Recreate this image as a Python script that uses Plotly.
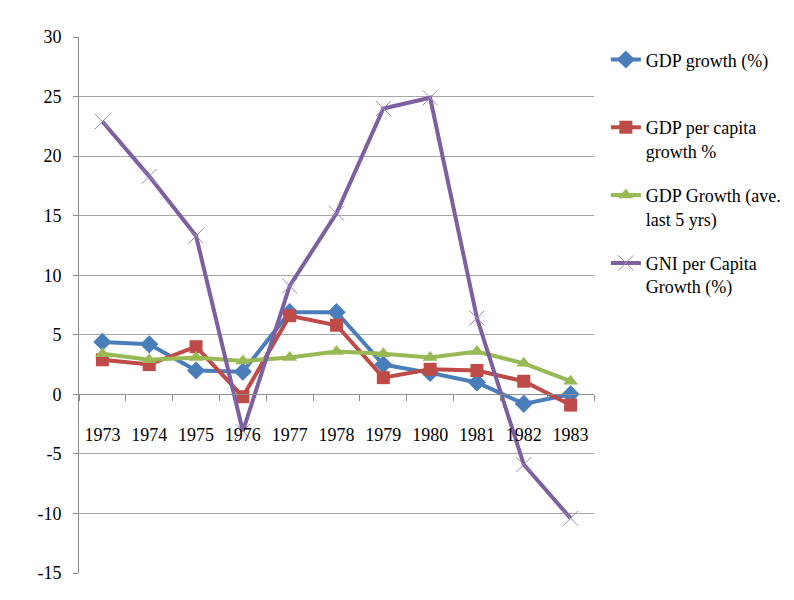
import plotly.graph_objects as go

years = ['1973', '1974', '1975', '1976', '1977', '1978', '1979', '1980', '1981', '1982', '1983']
gdp_growth = [4.4, 4.2, 2.0, 1.9, 6.9, 6.9, 2.5, 1.8, 1.0, -0.8, 0.0]
gdp_per_capita = [2.9, 2.5, 4.0, -0.2, 6.6, 5.8, 1.4, 2.1, 2.0, 1.1, -0.9]
gdp_avg5 = [3.4, 2.9, 3.1, 2.8, 3.1, 3.6, 3.4, 3.1, 3.6, 2.6, 1.1]
gni_per_capita = [22.9, 18.3, 13.3, -3.1, 9.1, 15.2, 24.0, 24.9, 6.4, -5.9, -10.4]

y_tick_values = [-15, -10, -5, 0, 5, 10, 15, 20, 25, 30]
y_tick_labels = ['-15', '-10', '-5', '0', '5', '10', '15', '20', '25', '30']

names = ['GDP growth (%)<br>\u00a0', 'GDP per capita<br>growth %',
         'GDP Growth (ave.<br>last 5 yrs)', 'GNI per Capita<br>Growth (%)']

FONT = 'Liberation Serif'
fig = go.Figure()
fig.add_trace(go.Scatter(x=years, y=gdp_growth, name=names[0], mode='lines+markers', legendgroup='a',
                         line=dict(color='#4A7EBB', width=4),
                         marker=dict(symbol='diamond', size=14, color='#4A7EBB')))
fig.add_trace(go.Scatter(x=years, y=gdp_per_capita, name=names[1], mode='lines+markers', legendgroup='b',
                         line=dict(color='#BE4B48', width=4),
                         marker=dict(symbol='square', size=13, color='#BE4B48')))
fig.add_trace(go.Scatter(x=years, y=gdp_avg5, name=names[2], mode='lines+markers', legendgroup='c',
                         line=dict(color='#98B954', width=4),
                         marker=dict(symbol='triangle-up', size=13, color='#98B954')))
fig.add_trace(go.Scatter(x=years, y=gni_per_capita, name=names[3], mode='lines+markers', legendgroup='d',
                         line=dict(color='#7D60A0', width=4),
                         marker=dict(symbol='x-thin', size=15, color='#9A86BE',
                                     line=dict(color='#9A86BE', width=1))))

fig.update_layout(
    width=778, height=584,
    margin=dict(l=71, r=192, t=29, b=19, autoexpand=False),
    paper_bgcolor='white', plot_bgcolor='white',
    font=dict(family=FONT, size=18, color='black'),
    showlegend=True,
    legend=dict(x=1.023, xanchor='left', y=0.992, yanchor='top', valign='top',
                traceorder='grouped', tracegroupgap=18,
                font=dict(family=FONT, size=18, color='black'),
                bgcolor='rgba(0,0,0,0)'),
    xaxis=dict(type='category', range=[-0.5, 10.5], anchor='free', position=1/3, automargin=False,
               showline=True, linecolor='#8C8C8C', linewidth=1,
               ticks='outside', ticklen=6, tickcolor='#8C8C8C', tickson='boundaries',
               tickangle=0, ticklabelstandoff=24, showgrid=False, zeroline=False,
               tickfont=dict(family=FONT, size=18, color='black')),
    yaxis=dict(range=[-15, 30], tickmode='array', tickvals=y_tick_values, ticktext=y_tick_labels,
               automargin=False,
               showline=True, linecolor='#8C8C8C', linewidth=1,
               ticks='outside', ticklen=5, tickcolor='#8C8C8C',
               showgrid=True, gridcolor='#A6A6A6', gridwidth=1,
               zeroline=False, ticklabelstandoff=8,
               tickfont=dict(family=FONT, size=18, color='black')),
)

fig.write_html('out.html')
